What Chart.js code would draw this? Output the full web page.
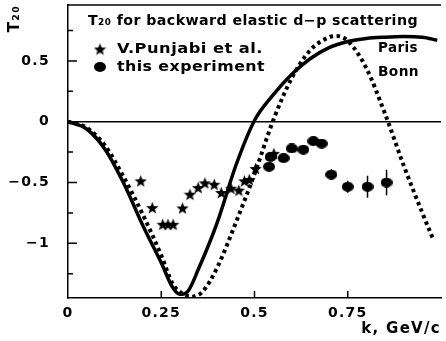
<!DOCTYPE html>
<html>
<head>
<meta charset="utf-8">
<script src="https://cdn.jsdelivr.net/npm/chart.js@4.4.0/dist/chart.umd.min.js"></script>
<style>
  html, body { margin: 0; padding: 0; background: #fff; }
  #c { display: block; }
</style>
</head>
<body>
<canvas id="c" width="446" height="341"></canvas>
<script>
// Paris potential (solid)
const parisK = [0, 0.05, 0.1, 0.15, 0.2, 0.25, 0.28, 0.3, 0.32, 0.35, 0.4, 0.45, 0.5, 0.55, 0.6, 0.65, 0.7, 0.75, 0.8, 0.85, 0.9, 0.95, 0.99];
const parisT = [0, -0.06, -0.23, -0.51, -0.85, -1.16, -1.36, -1.42, -1.40, -1.21, -0.83, -0.36, 0.01, 0.22, 0.39, 0.52, 0.61, 0.66, 0.685, 0.695, 0.70, 0.695, 0.67];
// Bonn potential (dotted)
const bonnK = [0, 0.05, 0.1, 0.15, 0.2, 0.25, 0.28, 0.3, 0.33, 0.36, 0.4, 0.45, 0.5, 0.55, 0.6, 0.65, 0.7, 0.72, 0.75, 0.8, 0.85, 0.9, 0.95, 0.98];
const bonnT = [0, -0.05, -0.20, -0.46, -0.76, -1.10, -1.33, -1.40, -1.44, -1.40, -1.20, -0.83, -0.43, 0.01, 0.36, 0.59, 0.695, 0.705, 0.665, 0.44, 0.065, -0.36, -0.75, -0.975];
// V.Punjabi et al. (stars)
const starK = [0.195, 0.226, 0.254, 0.268, 0.282, 0.307, 0.327, 0.349, 0.367, 0.392, 0.411, 0.437, 0.458, 0.473, 0.486, 0.503, 0.552];
const starT = [-0.486, -0.706, -0.843, -0.843, -0.843, -0.709, -0.596, -0.541, -0.503, -0.514, -0.582, -0.547, -0.563, -0.486, -0.475, -0.384, -0.26];
// this experiment (circles with errors)
const expK = [0.539, 0.543, 0.578, 0.600, 0.631, 0.658, 0.680, 0.706, 0.750, 0.803, 0.854];
const expT = [-0.37, -0.29, -0.30, -0.22, -0.23, -0.16, -0.18, -0.435, -0.535, -0.535, -0.50];
const expErr = [0.03, 0.03, 0.03, 0.03, 0.03, 0.03, 0.03, 0.045, 0.05, 0.09, 0.105];

const xTicks = [0, 0.25, 0.5, 0.75, 1];
const yTicks = [-1.25, -1, -0.75, -0.5, -0.25, 0, 0.25, 0.5, 0.75];
const xLabels = ["0", "0.25", "0.5", "0.75", ""];
const yLabels = { "-1": "\u22121", "-0.5": "\u22120.5", "0": "0", "0.5": "0.5" };

const FONT = "DejaVu Sans";
Chart.defaults.font.family = FONT;
Chart.defaults.color = "#000";

function makeStar(size) {
  const c = document.createElement("canvas");
  c.width = c.height = size;
  const g = c.getContext("2d");
  const r = size / 2, ri = r * 0.42;
  g.beginPath();
  for (let i = 0; i < 10; i++) {
    const a = -Math.PI / 2 + i * Math.PI / 5;
    const rr = i % 2 ? ri : r;
    g.lineTo(r + rr * Math.cos(a), r + rr * Math.sin(a) + 0.8);
  }
  g.closePath();
  g.fillStyle = "#000";
  g.fill();
  return c;
}
function makeDot(w, h) {
  const c = document.createElement("canvas");
  c.width = w; c.height = h;
  const g = c.getContext("2d");
  g.beginPath();
  g.ellipse(w / 2, h / 2, w / 2, h / 2, 0, 0, Math.PI * 2);
  g.fillStyle = "#000";
  g.fill();
  return c;
}
const starImg = makeStar(13);
const dotImg = makeDot(12, 10);

const pts = (xs, ys) => xs.map((x, i) => ({ x, y: ys[i] }));

// draw text widened horizontally to span a given width
function fitText(ctx, text, x, y, width) {
  ctx.letterSpacing = "0.4px";
  const w = ctx.measureText(text).width;
  ctx.save();
  ctx.translate(x, y);
  ctx.scale(width / w, 1);
  ctx.fillText(text, 0, 0);
  ctx.restore();
}

const decor = {
  id: "decor",
  beforeDraw(chart) {
    chart.ctx.letterSpacing = "1.3px";
  },
  beforeDatasetsDraw(chart) {
    const { ctx, chartArea: a, scales: { x, y } } = chart;
    ctx.save();
    ctx.strokeStyle = "#000";
    ctx.lineWidth = 1.5;
    ctx.beginPath();
    ctx.moveTo(a.left, a.top);
    ctx.lineTo(a.right, a.top);
    // inward ticks
    yTicks.forEach((v) => {
      const py = y.getPixelForValue(v);
      const len = Math.abs(v * 2 - Math.round(v * 2)) < 1e-6 ? 9 : 5;
      ctx.moveTo(a.left, py);
      ctx.lineTo(a.left + len, py);
    });
    xTicks.slice(1, 4).forEach((v) => {
      const px = x.getPixelForValue(v);
      ctx.moveTo(px, a.bottom);
      ctx.lineTo(px, a.bottom - 7);
    });
    ctx.stroke();
    ctx.restore();
  },
  afterDatasetsDraw(chart) {
    const { ctx, scales: { x, y } } = chart;
    ctx.save();
    ctx.strokeStyle = "#000";
    ctx.lineWidth = 1.5;
    ctx.beginPath();
    expK.forEach((k, i) => {
      const px = x.getPixelForValue(k);
      ctx.moveTo(px, y.getPixelForValue(expT[i] + expErr[i]));
      ctx.lineTo(px, y.getPixelForValue(expT[i] - expErr[i]));
    });
    ctx.stroke();

    // title and legend text
    ctx.fillStyle = "#000";
    ctx.textBaseline = "middle";
    ctx.font = "bold 14px " + FONT;
    fitText(ctx, "T\u2082\u2080 for backward elastic d\u2212p scattering", 88, 21, 330);
    ctx.drawImage(starImg, 100 - 6.5, 49 - 6.5);
    ctx.drawImage(dotImg, 100 - 6, 67 - 5);
    fitText(ctx, "V.Punjabi et al.", 117, 49, 146);
    fitText(ctx, "this experiment", 117, 67, 148);
    fitText(ctx, "Paris", 378, 48, 40);
    fitText(ctx, "Bonn", 378, 72, 41);
    ctx.restore();
  }
};

new Chart(document.getElementById("c"), {
  type: "scatter",
  data: {
    datasets: [
      {
        label: "Paris",
        data: pts(parisK, parisT),
        showLine: true,
        borderColor: "#000",
        borderWidth: 3.5,
        pointRadius: 0,
        cubicInterpolationMode: "monotone"
      },
      {
        label: "Bonn",
        data: pts(bonnK, bonnT),
        showLine: true,
        borderColor: "#000",
        borderWidth: 4,
        borderDash: [3.5, 3.5],
        pointRadius: 0,
        cubicInterpolationMode: "monotone"
      },
      {
        label: "V.Punjabi et al.",
        data: pts(starK, starT),
        pointStyle: starImg
      },
      {
        label: "this experiment",
        data: pts(expK, expT),
        pointStyle: dotImg
      }
    ]
  },
  options: {
    responsive: false,
    animation: false,
    layout: { padding: { top: 5, left: 0, right: 0, bottom: 0 } },
    plugins: { legend: { display: false }, tooltip: { enabled: false } },
    scales: {
      x: {
        type: "linear",
        min: 0,
        max: 1,
        afterFit: (s) => { s.height = 43; s.paddingLeft = 0; s.paddingRight = 0; },
        afterBuildTicks: (s) => { s.ticks = xTicks.map((v) => ({ value: v })); },
        grid: { drawOnChartArea: false, drawTicks: false },
        border: { color: "#000", width: 1.5 },
        ticks: {
          padding: 7,
          maxRotation: 0,
          autoSkip: false,
          font: { size: 14, weight: "bold" },
          callback: (v, i) => xLabels[i]
        },
        title: {
          display: true,
          text: "k, GeV/c",
          align: "end",
          font: { size: 15, weight: "bold" },
          padding: { top: 0, bottom: 3 }
        }
      },
      y: {
        type: "linear",
        min: -1.45,
        max: 0.96,
        afterFit: (s) => { s.width = 68; s.paddingTop = 0; s.paddingBottom = 0; },
        afterBuildTicks: (s) => { s.ticks = yTicks.map((v) => ({ value: v })); },
        grid: {
          drawTicks: false,
          lineWidth: 1.5,
          color: (c) => (c.tick && c.tick.value === 0 ? "#000" : "rgba(0,0,0,0)")
        },
        border: { color: "#000", width: 1.5 },
        ticks: {
          padding: 18,
          autoSkip: false,
          font: { size: 14, weight: "bold" },
          callback: (v) => yLabels[String(v)] || ""
        },
        title: {
          display: true,
          text: "T\u2082\u2080",
          align: "end",
          font: { size: 15, weight: "bold" },
          padding: { top: 6, bottom: 0 }
        }
      }
    }
  },
  plugins: [decor]
});
</script>
</body>
</html>
